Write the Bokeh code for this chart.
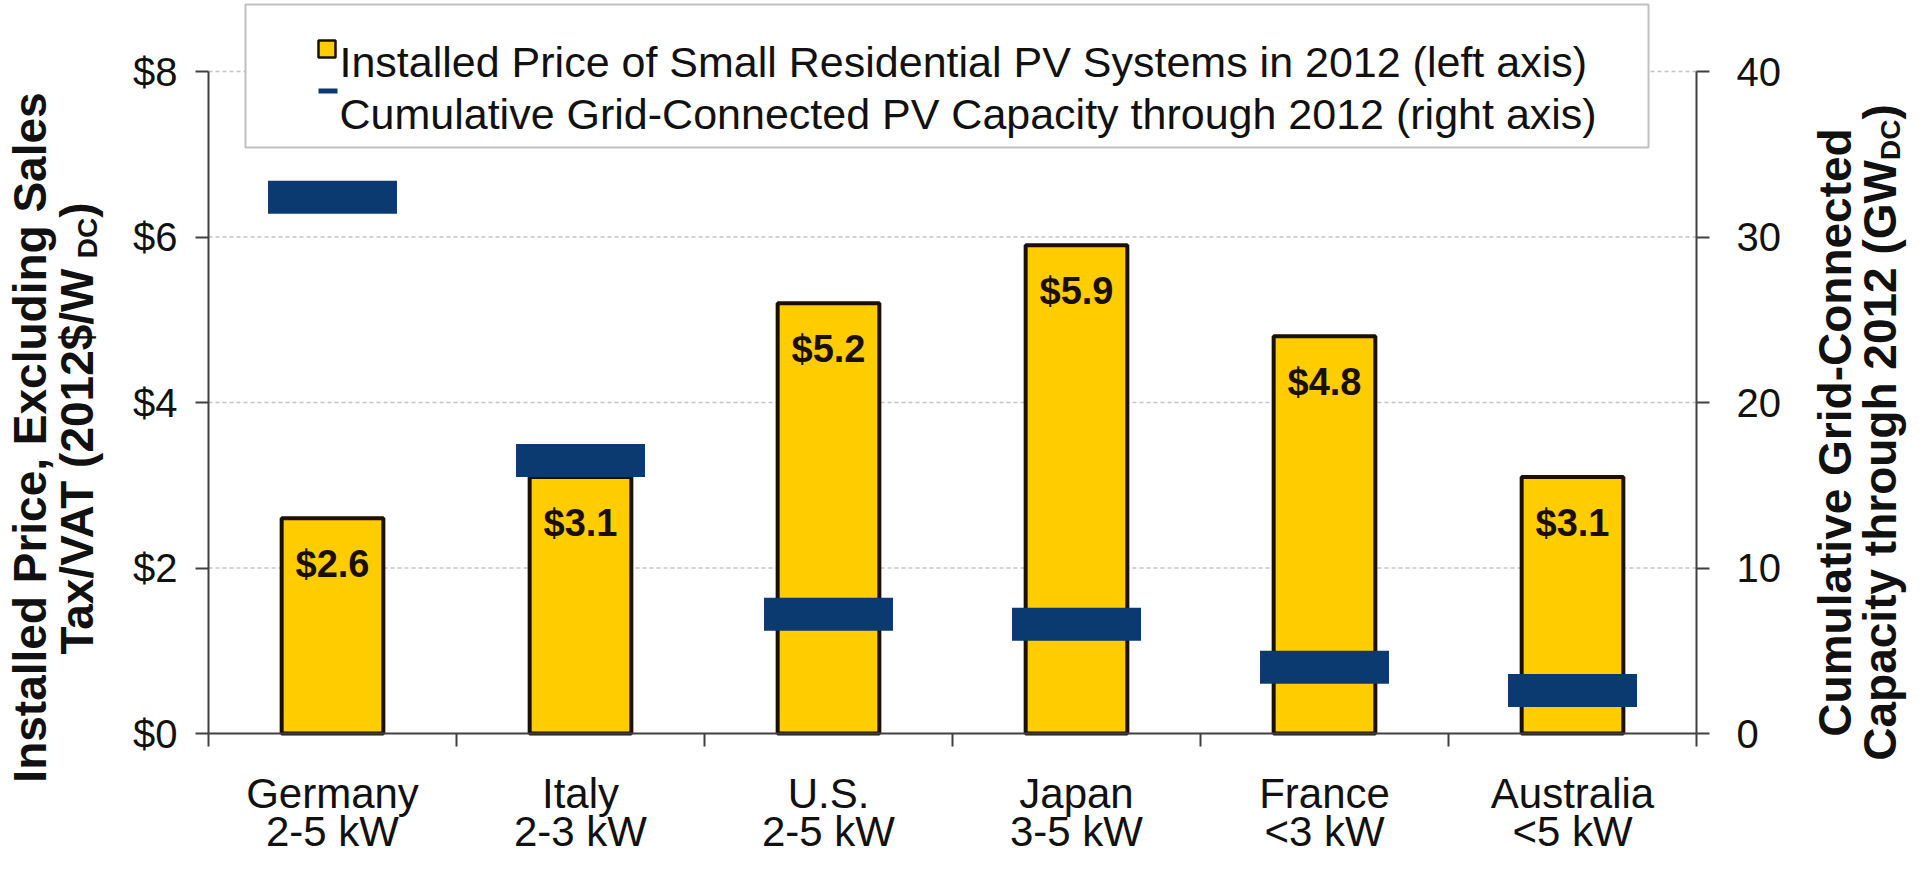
import math
from bokeh.plotting import figure
from bokeh.models import (Range1d, LinearAxis, FixedTicker, ColumnDataSource,
                          LabelSet, Label, BoxAnnotation)
from bokeh.embed import file_html
from bokeh.resources import INLINE
from bokeh.core.properties import value

# ---------------- data ----------------
countries = ["Germany", "Italy", "U.S.", "Japan", "France", "Australia"]
sizes = ["2-5 kW", "2-3 kW", "2-5 kW", "3-5 kW", "<3 kW", "<5 kW"]
price = [2.6, 3.1, 5.2, 5.9, 4.8, 3.1]            # 2012$/W_DC (left axis)
capacity = [32.4, 16.5, 7.2, 6.6, 4.0, 2.6]        # GW_DC (right axis)
price_ticks = [0, 2, 4, 6, 8]
price_tick_labels = ["$0", "$2", "$4", "$6", "$8"]
cap_ticks = [0, 10, 20, 30, 40]
legend_bar = "Installed Price of Small Residential PV Systems in 2012 (left axis)"
legend_cap = "Cumulative Grid-Connected PV Capacity through 2012 (right axis)"

# ---------------- layout ----------------
W, H = 1910, 856
FONT = "Liberation Sans"
YELLOW = "#FFCC00"
EDGE = "#1c0f05"
NAVY = "#0b3a70"
AXIS = "#404040"
TXT = "#111111"

# plot area in reference pixels: x 216..1704, y 79..741 (page offset 8 px)
PX_X = 1488 / 6      # pixels per category
PX_Y = 662 / 8       # pixels per $1
PX_C = 662 / 40      # pixels per GW
L, R, T, B = 216 - 8, 1704 - 8, 79 - 8, 741 - 8   # canvas pixels

p = figure(width=W, height=H, output_backend="svg", toolbar_location=None,
           x_axis_type=None, y_axis_type=None, min_border=0,
           x_range=Range1d(-L / PX_X, 6 + (W - R) / PX_X),
           y_range=Range1d(-(H - B) / PX_Y, 8 + T / PX_Y))
p.outline_line_color = None
p.background_fill_color = "white"
p.border_fill_color = "white"
p.xgrid.visible = False
p.ygrid.visible = False
p.extra_y_ranges = {"cap": Range1d(-(H - B) / PX_C, 40 + T / PX_C)}

def X(px):   # reference pixel -> x data
    return (px - 216) / PX_X

def Y(py):   # reference pixel -> y data
    return (741 - py) / PX_Y

def style_axis(ax):
    ax.axis_line_color = AXIS
    ax.axis_line_width = 2
    ax.major_tick_line_color = AXIS
    ax.major_tick_line_width = 2
    ax.minor_tick_line_color = AXIS
    ax.minor_tick_line_width = 2
    ax.major_label_text_font = FONT
    ax.major_label_text_color = TXT

# left axis
ya = LinearAxis(fixed_location=0, bounds=(0, 8), ticker=FixedTicker(ticks=price_ticks))
style_axis(ya)
ya.major_label_overrides = {t: l for t, l in zip(price_ticks, price_tick_labels)}
ya.major_label_text_font_size = "40px"
ya.major_label_standoff = 18
ya.major_tick_out = 13
ya.major_tick_in = 0
ya.minor_tick_out = 0
ya.minor_tick_in = 0
p.add_layout(ya, "left")

# right axis
ra = LinearAxis(fixed_location=6, y_range_name="cap", bounds=(0, 40),
                ticker=FixedTicker(ticks=cap_ticks))
style_axis(ra)
ra.major_label_text_font_size = "40px"
ra.major_label_standoff = 27
ra.major_tick_out = 13
ra.major_tick_in = 0
ra.minor_tick_out = 0
ra.minor_tick_in = 0
p.add_layout(ra, "right")

# bottom axis: country names at category centres, tick marks at category boundaries
centers = [i + 0.5 for i in range(len(countries))]
xa = LinearAxis(fixed_location=0, bounds=(0, 6),
                ticker=FixedTicker(ticks=centers,
                                   minor_ticks=list(range(len(countries) + 1))))
style_axis(xa)
xa.major_label_overrides = {c: n for c, n in zip(centers, countries)}
xa.major_label_text_font_size = "42px"
xa.major_label_standoff = 23
xa.major_tick_out = 0
xa.major_tick_in = 0
xa.minor_tick_out = 13
xa.minor_tick_in = 0
p.add_layout(xa, "below")

# gridlines at the left-axis ticks (dotted)
grid_y = price_ticks[1:]
p.segment(x0=[0] * len(grid_y), x1=[6] * len(grid_y), y0=grid_y, y1=grid_y,
          line_color="#c4c4c4", line_dash="4 3", line_width=1.5)

# ---------------- glyphs ----------------
src = ColumnDataSource(dict(
    x=centers,
    price=price,
    cap=capacity,
    plabel=["$%.1f" % v for v in price],
    size=sizes,
))

p.vbar(x="x", top="price", bottom=0, width=0.41, source=src,
       fill_color=YELLOW, line_color=EDGE, line_width=4)
p.rect(x="x", y="cap", width=0.52, height=33, height_units="screen", source=src,
       fill_color=NAVY, line_color=None, y_range_name="cap")

p.add_layout(LabelSet(x="x", y="price", text="plabel", source=src, y_offset=-46,
                      text_align="center", text_baseline="middle",
                      text_font=value(FONT), text_font_style="bold",
                      text_font_size="38px", text_color="#1a0f05"))

# second line of the category labels (system size)
p.add_layout(LabelSet(x="x", y=Y(853), text="size", source=src,
                      text_align="center", text_baseline="alphabetic",
                      text_font=value(FONT), text_font_size="42px",
                      text_color=TXT))

# ---------------- legend (drawn by hand) ----------------
p.add_layout(BoxAnnotation(left=X(253), right=X(1656), top=Y(12), bottom=Y(155),
                           fill_color="white", fill_alpha=1.0,
                           line_color="#c0c0c0", line_alpha=1.0, line_width=2))
p.add_layout(BoxAnnotation(left=X(326), right=X(343), top=Y(48), bottom=Y(65),
                           fill_color=YELLOW, fill_alpha=1.0,
                           line_color=EDGE, line_alpha=1.0, line_width=2.5))
p.add_layout(BoxAnnotation(left=X(326), right=X(345), top=Y(96), bottom=Y(101),
                           fill_color=NAVY, fill_alpha=1.0,
                           line_color=None))
p.add_layout(Label(x=X(347), y=Y(69), text=legend_bar, text_align="left",
                   text_baseline="alphabetic", text_font=FONT,
                   text_font_size="43px", text_color=TXT))
p.add_layout(Label(x=X(347), y=Y(121), text=legend_cap, text_align="left",
                   text_baseline="alphabetic", text_font=FONT,
                   text_font_size="43px", text_color=TXT))

# ---------------- axis titles (rotated, with subscripts) ----------------
BOLD = {" ": .278, "$": .556, "(": .333, ")": .333, ",": .278, "-": .333, ".": .278,
        "/": .278, "A": .722, "C": .722, "D": .722, "E": .667, "G": .778, "I": .278,
        "S": .667, "T": .611, "V": .667, "W": .944, "a": .556, "c": .556, "d": .611,
        "e": .556, "g": .611, "h": .611, "i": .278, "l": .278, "m": .889, "n": .611,
        "o": .611, "p": .611, "r": .389, "s": .556, "t": .333, "u": .611, "v": .556,
        "x": .556, "y": .556}

def tw(s, size):
    return sum(BOLD.get(c, .556) for c in s) * size

TS = 46      # title font size
SS = 28      # subscript font size
ANG = math.pi / 2

def vlabel(px, py, text, size=TS, align="center"):
    p.add_layout(Label(x=X(px), y=Y(py), text=text, angle=ANG, text_align=align,
                       text_baseline="middle", text_font=FONT,
                       text_font_style="bold", text_font_size="%dpx" % size,
                       text_color=TXT))

def vlabel_sub(px, pcy, main, sub, tail, sub_dx=11):
    wm, ws, wt = tw(main, TS), tw(sub, SS), tw(tail, TS)
    start = pcy + (wm + ws + wt) / 2
    vlabel(px, start, main, align="left")
    vlabel(px + sub_dx, start - wm, sub, size=SS, align="left")
    vlabel(px, start - wm - ws, tail, align="left")

# left title
vlabel(37, 445, "Installed Price, Excluding Sales")
vlabel_sub(84, 436, "Tax/VAT (2012$/W", "DC", ")")
# right title
vlabel(1842, 440, "Cumulative Grid-Connected")
vlabel_sub(1887, 440, "Capacity through 2012 (GW", "DC", ")")

open("out.html", "w").write(file_html(p, INLINE))
